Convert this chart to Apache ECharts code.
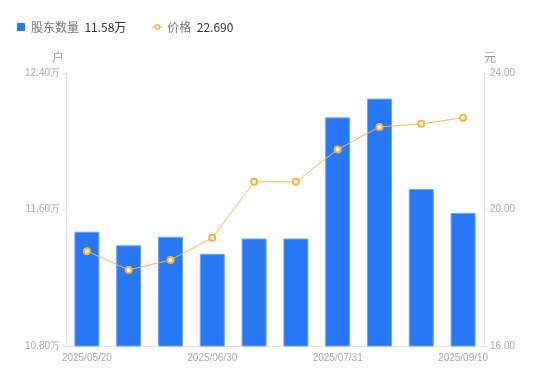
<!DOCTYPE html>
<html>
<head>
<meta charset="utf-8">
<script src="https://cdn.jsdelivr.net/npm/echarts@6/dist/echarts.min.js"></script>
<style>
html,body{margin:0;padding:0;background:#fff;}
#c{width:550px;height:381px;}
</style>
</head>
<body>
<div id="c"></div>
<script>
const categories = ['2025/05/20','2025/05/30','2025/06/10','2025/06/30','2025/07/10','2025/07/20','2025/07/31','2025/08/20','2025/08/31','2025/09/10'];
const holders = [11.47, 11.39, 11.44, 11.34, 11.43, 11.43, 12.14, 12.25, 11.72, 11.58];
const prices = [18.78, 18.23, 18.52, 19.17, 20.81, 20.81, 21.76, 22.42, 22.51, 22.69];
const holderTicks = [10.8, 11.6, 12.4];
const priceTicks = [16, 20, 24];

const FONT = '"Noto Sans CJK SC", "Noto Sans", sans-serif';
const chart = echarts.init(document.getElementById('c'));
const lastHolder = holders[holders.length - 1].toFixed(2) + '万';
const lastPrice = prices[prices.length - 1].toFixed(3);

const squareIcon = 'path://M0.6,0H7.4Q8,0 8,0.6V7.4Q8,8 7.4,8H0.6Q0,8 0,7.4V0.6Q0,0 0.6,0Z';
const lineIcon = 'path://M0,2.55H2.3V3.45H0Z M7.7,2.55H10V3.45H7.7Z M2,3A3,3 0 1,1 8,3A3,3 0 1,1 2,3Z M3.3,3A1.7,1.7 0 1,0 6.7,3A1.7,1.7 0 1,0 3.3,3Z';

chart.setOption({
  animation: false,
  textStyle: { fontFamily: FONT },
  legend: {
    left: 12, top: 16,
    itemWidth: 10, itemHeight: 8, itemGap: 26,
    data: [
      { name: '股东数量', icon: squareIcon, itemStyle: { color: '#2878f5', borderWidth: 0 } },
      { name: '价格', icon: lineIcon, itemStyle: { color: '#fbb23a', borderWidth: 0 } }
    ],
    formatter: function (n) {
      return '{n|' + n + '}  {v|' + (n === '股东数量' ? lastHolder : lastPrice) + '}';
    },
    textStyle: {
      fontFamily: FONT,
      rich: {
        n: { color: '#75777f', fontSize: 12, fontFamily: FONT },
        v: { color: '#333333', fontSize: 12, fontFamily: FONT }
      }
    }
  },
  grid: { left: 66, right: 66, top: 73, bottom: 35 },
  xAxis: {
    type: 'category',
    data: categories,
    axisLine: { lineStyle: { color: '#e3e3e6' } },
    axisTick: { show: false },
    axisLabel: { color: '#a5a7b3', fontSize: 10, interval: 2, margin: 7, fontFamily: 'Arial, "Liberation Sans", sans-serif' }
  },
  yAxis: [
    {
      type: 'value', name: '户', min: holderTicks[0], max: holderTicks[2], interval: 0.8,
      nameTextStyle: { color: '#9a9ca8', fontSize: 12, align: 'right', padding: [0, 2, 0, 0] },
      nameGap: 10,
      axisLine: { show: true, lineStyle: { color: '#e3e3e6' } },
      axisTick: { show: true, length: 4, lineStyle: { color: '#e3e3e6' } },
      splitLine: { show: false },
      axisLabel: { color: '#a5a7b3', fontSize: 10, margin: 6, formatter: v => v.toFixed(2) + '万', fontFamily: 'Arial, "Liberation Sans", sans-serif' }
    },
    {
      type: 'value', name: '元', min: priceTicks[0], max: priceTicks[2], interval: 4,
      nameTextStyle: { color: '#9a9ca8', fontSize: 12, align: 'left', padding: [0, 0, 0, 0] },
      nameGap: 10,
      axisLine: { show: true, lineStyle: { color: '#e3e3e6' } },
      axisTick: { show: true, length: 4, lineStyle: { color: '#e3e3e6' } },
      splitLine: { show: false },
      axisLabel: { color: '#a5a7b3', fontSize: 10, margin: 6, formatter: v => v.toFixed(2), fontFamily: 'Arial, "Liberation Sans", sans-serif' }
    }
  ],
  series: [
    {
      name: '股东数量', type: 'bar', yAxisIndex: 0, data: holders,
      barWidth: 25,
      itemStyle: { color: '#2878f5', borderColor: '#6fa3f7', borderWidth: 1 }
    },
    {
      name: '价格', type: 'line', yAxisIndex: 1, data: prices,
      symbol: 'circle', symbolSize: 6,
      lineStyle: { color: '#fbb73f', width: 1 },
      itemStyle: { color: '#ffffff', borderColor: '#fbb23a', borderWidth: 2 }
    }
  ]
});
</script>
</body>
</html>
